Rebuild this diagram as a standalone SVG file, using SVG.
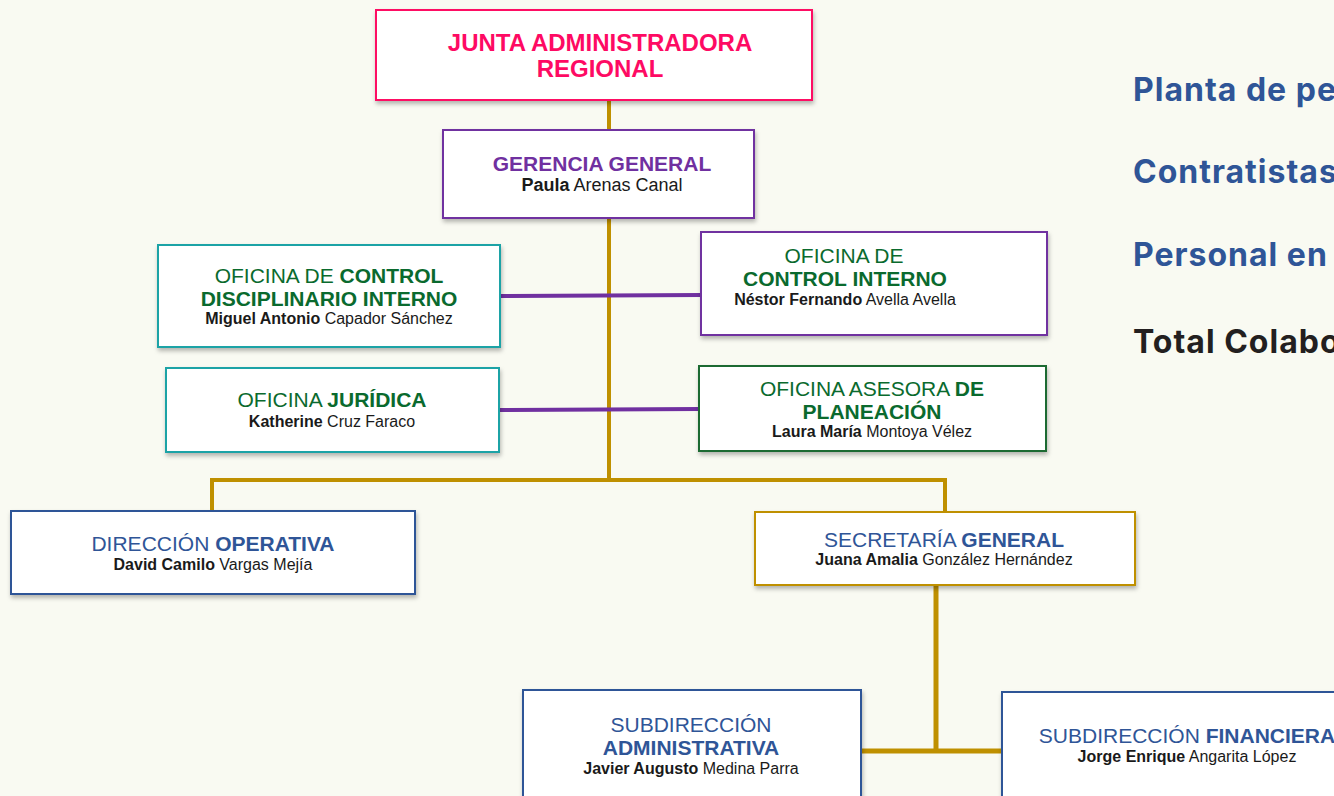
<svg xmlns="http://www.w3.org/2000/svg" width="1334" height="796" viewBox="0 0 1334 796">
<defs>
<filter id="sh" x="-10%" y="-10%" width="120%" height="130%">
<feDropShadow dx="1" dy="3" stdDeviation="2" flood-color="#000" flood-opacity="0.28"/>
</filter>
<style>
.box{fill:#ffffff;stroke-width:2;filter:url(#sh)}
text{font-family:"Liberation Sans",Arial,sans-serif;text-anchor:middle}
.t{font-size:21px}
.n{font-size:16px;fill:#1a1a1a}
.b{font-weight:bold}
.g{fill:#0a6a2e}
.bl{fill:#2f5597}
.gold{stroke:#bf9000;fill:none}
.pur{stroke:#7030a0;fill:none}
.side{font-family:Inter,"Open Sans",sans-serif;font-weight:700;font-size:32px;text-anchor:start;letter-spacing:1px}
</style>
</defs>
<rect width="1334" height="796" fill="#f9faf2"/>
<g id="connectors">
<line class="gold" x1="609" y1="100" x2="609" y2="130" stroke-width="4"/>
<line class="gold" x1="609" y1="218" x2="609" y2="481" stroke-width="4"/>
<polyline class="gold" points="212,511 212,480 945,480 945,512" stroke-width="4"/>
<line class="pur" x1="500" y1="296" x2="701" y2="295" stroke-width="4"/>
<line class="pur" x1="499" y1="410" x2="699" y2="409" stroke-width="4"/>
<line class="gold" x1="936" y1="585" x2="936" y2="752" stroke-width="5"/>
<line class="gold" x1="861" y1="751" x2="1002" y2="751" stroke-width="5"/>
</g>
<g id="junta">
<rect class="box" x="376" y="10" width="436" height="90" stroke="#fe0a63"/>
<text x="600" y="51" font-size="24" class="b" fill="#fe0a63">JUNTA ADMINISTRADORA</text>
<text x="600" y="77" font-size="24" class="b" fill="#fe0a63">REGIONAL</text>
</g>
<g id="gerencia">
<rect class="box" x="443" y="130" width="311" height="88" stroke="#7030a0"/>
<text x="602" y="171" font-size="21" class="b" fill="#7030a0">GERENCIA GENERAL</text>
<text x="602" y="191" font-size="18" fill="#1a1a1a"><tspan class="b">Paula</tspan> Arenas Canal</text>
</g>
<g id="control-disciplinario">
<rect class="box" x="158" y="245" width="342" height="102" stroke="#1fa3a6"/>
<text x="329" y="283" class="t g">OFICINA DE <tspan class="b">CONTROL</tspan></text>
<text x="329" y="306" class="t g b">DISCIPLINARIO INTERNO</text>
<text x="329" y="324" class="n"><tspan class="b">Miguel Antonio</tspan> Capador Sánchez</text>
</g>
<g id="control-interno">
<rect class="box" x="701" y="232" width="346" height="103" stroke="#7030a0"/>
<text x="844" y="263" class="t g">OFICINA DE</text>
<text x="845" y="286" class="t g b">CONTROL INTERNO</text>
<text x="845" y="305" class="n"><tspan class="b">Néstor Fernando</tspan> Avella Avella</text>
</g>
<g id="juridica">
<rect class="box" x="166" y="368" width="333" height="84" stroke="#1fa3a6"/>
<text x="332" y="407" class="t g">OFICINA <tspan class="b">JURÍDICA</tspan></text>
<text x="332" y="427" class="n"><tspan class="b">Katherine</tspan> Cruz Faraco</text>
</g>
<g id="planeacion">
<rect class="box" x="699" y="366" width="347" height="85" stroke="#1a6b30"/>
<text x="872" y="396" class="t g">OFICINA ASESORA <tspan class="b">DE</tspan></text>
<text x="872" y="419" class="t g b">PLANEACIÓN</text>
<text x="872" y="437" class="n"><tspan class="b">Laura María</tspan> Montoya Vélez</text>
</g>
<g id="direccion-operativa">
<rect class="box" x="11" y="511" width="404" height="83" stroke="#2f5597"/>
<text x="213" y="551" class="t bl">DIRECCIÓN <tspan class="b">OPERATIVA</tspan></text>
<text x="213" y="570" class="n"><tspan class="b">David Camilo</tspan> Vargas Mejía</text>
</g>
<g id="secretaria-general">
<rect class="box" x="755" y="512" width="380" height="73" stroke="#bf9000"/>
<text x="944" y="547" class="t bl">SECRETARÍA <tspan class="b">GENERAL</tspan></text>
<text x="944" y="565" class="n"><tspan class="b">Juana Amalia</tspan> González Hernández</text>
</g>
<g id="subdireccion-administrativa">
<rect class="box" x="523" y="690" width="338" height="120" stroke="#2f5597"/>
<text x="691" y="732" class="t bl">SUBDIRECCIÓN</text>
<text x="691" y="755" class="t bl b">ADMINISTRATIVA</text>
<text x="691" y="774" class="n"><tspan class="b">Javier Augusto</tspan> Medina Parra</text>
</g>
<g id="subdireccion-financiera">
<rect class="box" x="1002" y="692" width="360" height="120" stroke="#2f5597"/>
<text x="1187" y="743" class="t bl">SUBDIRECCIÓN <tspan class="b">FINANCIERA</tspan></text>
<text x="1187" y="762" class="n"><tspan class="b">Jorge Enrique</tspan> Angarita López</text>
</g>
<g id="resumen">
<text x="1133" y="101" class="side" fill="#2f5597">Planta de pe</text>
<text x="1133" y="183" class="side" fill="#2f5597">Contratistas</text>
<text x="1133" y="266" class="side" fill="#2f5597">Personal en</text>
<text x="1133" y="353" class="side" fill="#231f20">Total Colabo</text>
</g>
</svg>
